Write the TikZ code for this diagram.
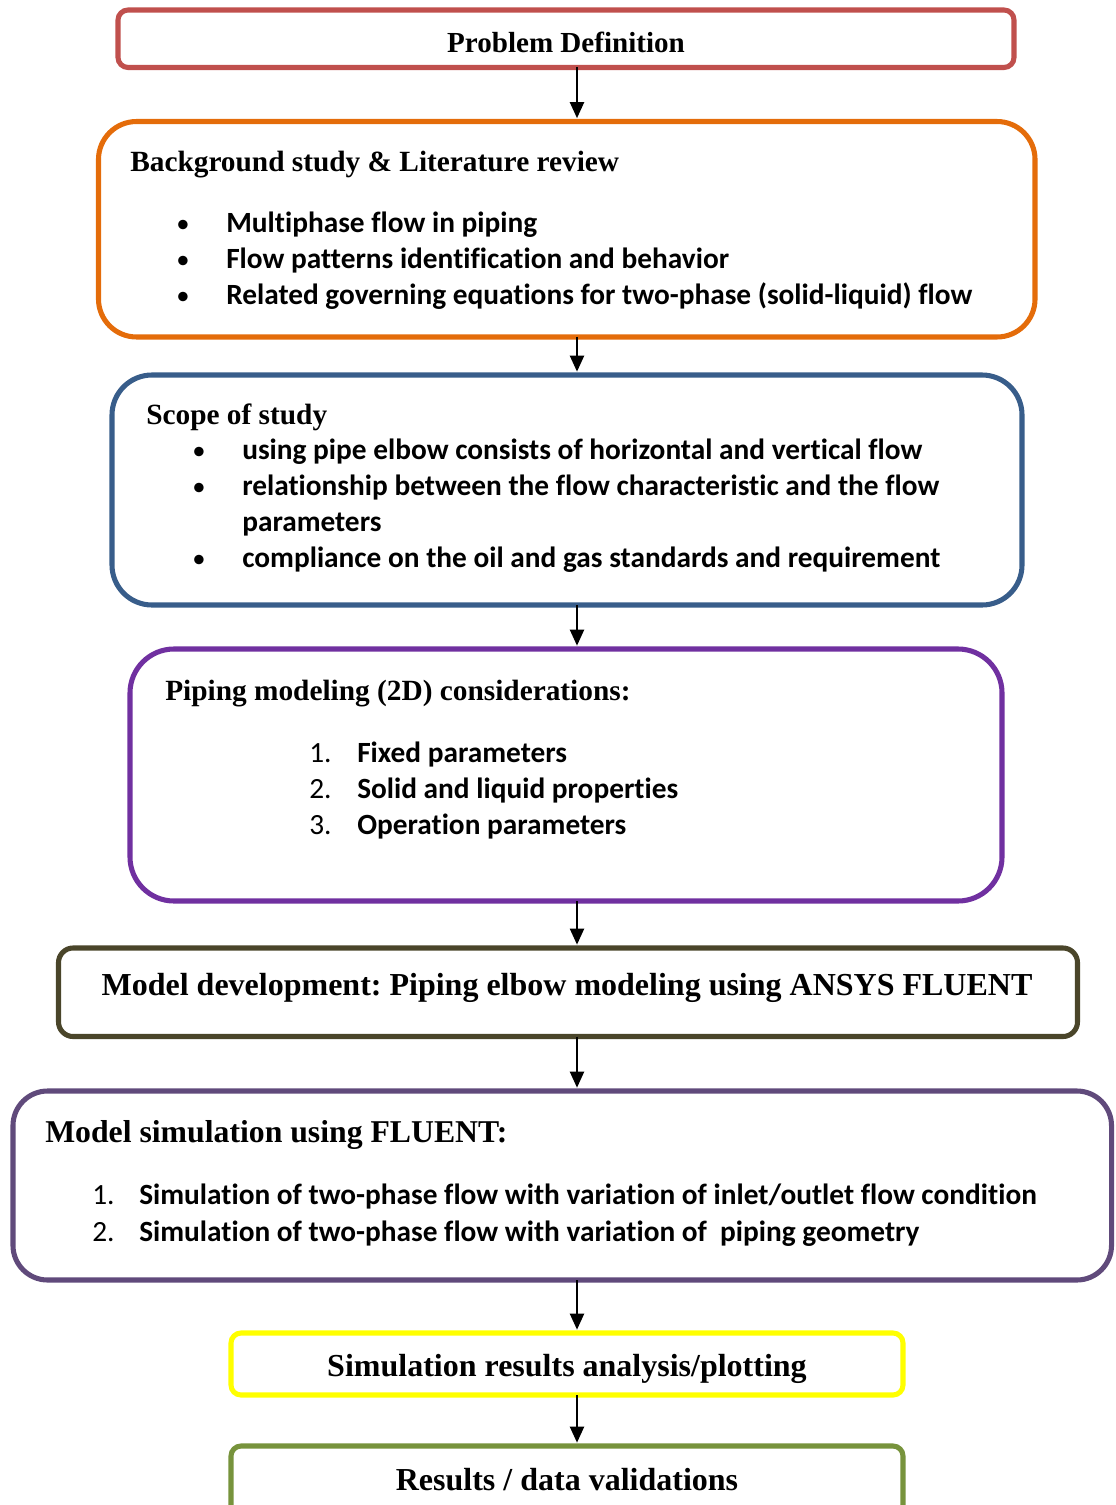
\documentclass[tikz,border=0pt]{standalone}
\usepackage{fontspec}
\setmainfont{Liberation Serif}
\newfontfamily\calfont[Ligatures=NoCommon]{Carlito}
\usetikzlibrary{arrows.meta}
\definecolor{cred}{HTML}{C0504D}
\definecolor{corange}{HTML}{E46C0A}
\definecolor{cblue}{HTML}{385D8A}
\definecolor{cpurple}{HTML}{7030A0}
\definecolor{colive}{HTML}{4A452A}
\definecolor{cviolet}{HTML}{604A7B}
\definecolor{cyellow}{HTML}{FFFF00}
\definecolor{cgreen}{HTML}{77933C}
\frenchspacing
\begin{document}
\begin{tikzpicture}[x=0.75pt,y=-0.75pt,
  boxn/.style={draw=#1, line width=3.8pt, inner sep=0pt, outer sep=0pt},
  ttl/.style={font=\fontsize{22pt}{26pt}\selectfont\bfseries, inner sep=0pt, anchor=base west},
  ctr/.style={font=\fontsize{24pt}{28pt}\selectfont\bfseries, inner sep=0pt, anchor=base},
  itm/.style={font=\calfont\fontsize{22pt}{26pt}\selectfont\bfseries, inner sep=0pt, anchor=base west},
  num/.style={font=\calfont\fontsize{22pt}{26pt}\selectfont, inner sep=0pt, anchor=base west},
  bul/.style={font=\calfont\fontsize{20pt}{24pt}\selectfont, inner sep=0pt, anchor=base},
  arr/.style={line width=1.6pt, -{Triangle[length=12pt,width=10.5pt]}, shorten >=2.5pt}
]
\useasboundingbox (0,0) rectangle (1116,1505);
\clip (0,0) rectangle (1116,1505);

% boxes
\node[boxn=cred, rounded corners=7.5pt, minimum width=672pt, minimum height=43.1pt] (b1) at (566,38.75) {};
\node[boxn=corange, rounded corners=28.5pt, minimum width=702.4pt, minimum height=161.6pt] (b2) at (566.75,229.25) {};
\node[boxn=cblue, rounded corners=30pt, minimum width=682.5pt, minimum height=172.5pt] (b3) at (567,490) {};
\node[boxn=cpurple, rounded corners=33pt, minimum width=654pt, minimum height=189pt] (b4) at (566,775) {};
\node[boxn=colive, rounded corners=11pt, minimum width=764.25pt, minimum height=66.4pt] (b5) at (568,992.25) {};
\node[boxn=cviolet, rounded corners=26pt, minimum width=823.9pt, minimum height=141.75pt] (b6) at (562.25,1185.5) {};
\node[boxn=cyellow, rounded corners=7.5pt, minimum width=504pt, minimum height=46.5pt] (b7) at (567,1364) {};
\node[boxn=cgreen, rounded corners=7.5pt, minimum width=504pt, minimum height=63pt] (b8) at (567,1488) {};

% arrows
\coordinate (ax) at (577,0);
\draw[arr] (b1.south -| ax) -- (b2.north -| ax);
\draw[arr] (b2.south -| ax) -- (b3.north -| ax);
\draw[arr] (b3.south -| ax) -- (b4.north -| ax);
\draw[arr] (b4.south -| ax) -- (b5.north -| ax);
\draw[arr] (b5.south -| ax) -- (b6.north -| ax);
\draw[arr] (b6.south -| ax) -- (b7.north -| ax);
\draw[arr] (b7.south -| ax) -- (b8.north -| ax);

% texts
\node[ctr, font=\fontsize{21.8pt}{26pt}\selectfont\bfseries] (t1) at (566,53) {Problem Definition};

\node[ttl] (t2) at (130,172) {Background study \& Literature review};
\node[bul] (t2b1) at (183,232.5) {•};
\node[bul] (t2b2) at (183,268.5) {•};
\node[bul] (t2b3) at (183,304.5) {•};
\node[itm] (t2i1) at (226,232.5) {Multiphase flow in piping};
\node[itm] (t2i2) at (226,268.5) {Flow patterns identification and behavior};
\node[itm] (t2i3) at (226,304.5) {Related governing equations for two-phase (solid-liquid) flow};

\node[ttl] (t3) at (146,424) {Scope of study};
\node[bul] (t3b1) at (199,459) {•};
\node[bul] (t3b2) at (199,495) {•};
\node[bul] (t3b3) at (199,567) {•};
\node[itm] (t3i1) at (242,459) {using pipe elbow consists of horizontal and vertical flow};
\node[itm] (t3i2) at (242,495) {relationship between the flow characteristic and the flow};
\node[itm] (t3i2b) at (242,531) {parameters};
\node[itm] (t3i3) at (242,567) {compliance on the oil and gas standards and requirement};

\node[ttl] (t4) at (165,700) {Piping modeling (2D) considerations:};
\node[num] (t4n1) at (309,762) {1.};
\node[num] (t4n2) at (309,798) {2.};
\node[num] (t4n3) at (309,834) {3.};
\node[itm] (t4i1) at (357,762) {Fixed parameters};
\node[itm] (t4i2) at (357,798) {Solid and liquid properties};
\node[itm] (t4i3) at (357,834) {Operation parameters};

\node[ctr] (t5) at (567,995) {Model development: Piping elbow modeling using ANSYS FLUENT};

\node[ttl, font=\fontsize{23.8pt}{28pt}\selectfont\bfseries] (t6) at (45,1142) {Model simulation using FLUENT:};
\node[num] (t6n1) at (92,1204) {1.};
\node[num] (t6n2) at (92,1241) {2.};
\node[itm] (t6i1) at (139,1204) {Simulation of two-phase flow with variation of inlet/outlet flow condition};
\node[itm] (t6i2) at (139,1241) {Simulation of two-phase flow with variation of\ \ piping geometry};

\node[ctr] (t7) at (567,1376) {Simulation results analysis/plotting};
\node[ctr] (t8) at (567,1490) {Results / data validations};
\end{tikzpicture}
\end{document}
